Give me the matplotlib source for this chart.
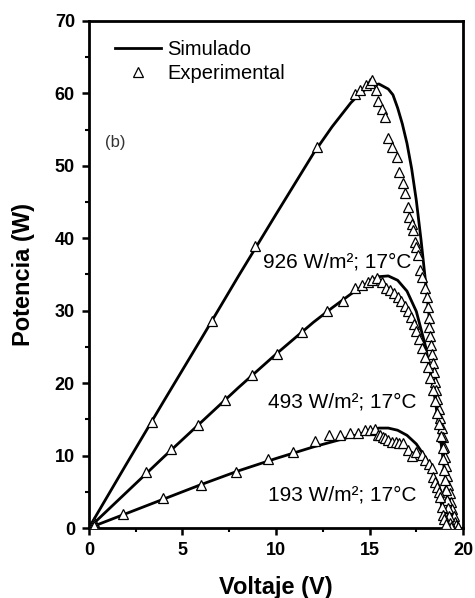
import matplotlib
matplotlib.use("Agg")
import matplotlib.pyplot as plt
from matplotlib.lines import Line2D
from matplotlib.ticker import MultipleLocator

plt.rcParams['font.family'] = ['Liberation Sans', 'DejaVu Sans']

# simulated P-V curves (V, W)
v_sim_926 = [0, 2, 4, 6, 8, 10, 12, 13, 14, 14.5, 15, 15.5, 16, 16.25, 16.5, 16.75, 17, 17.25,
             17.5, 17.75, 18, 18.25, 18.5, 18.75, 19, 19.25, 19.5, 19.57]
p_sim_926 = [0, 8.8, 17.5, 26.1, 34.8, 43.3, 51.7, 55.4, 58.7, 60.0, 61.0, 61.3, 60.6, 59.8, 58.0,
             55.8, 53.1, 49.6, 45.2, 39.8, 33.8, 27.5, 21.5, 15.5, 9.8, 4.5, 0.8, 0]

v_sim_493 = [0, 2, 4, 6, 8, 10, 12, 13, 14, 15, 15.5, 16, 16.5, 17, 17.5, 18, 18.5, 18.75, 19, 19.2, 19.4]
p_sim_493 = [0, 4.9, 9.8, 14.6, 19.4, 24.0, 28.4, 30.4, 32.3, 34.0, 34.7, 34.8, 34.2, 32.7, 29.9,
             25.0, 17.8, 13.2, 8.0, 4.0, 0]

v_sim_193 = [0, 2, 4, 6, 8, 10, 12, 13, 14, 15, 15.5, 16, 16.5, 17, 17.5, 18, 18.25, 18.5, 18.75, 19.05]
p_sim_193 = [0, 2.0, 4.0, 6.0, 7.9, 9.6, 11.2, 11.9, 12.6, 13.4, 13.8, 13.8, 13.5, 12.8, 11.6,
             9.7, 8.4, 6.8, 4.6, 0]

# measured points
v_exp_926 = [0.3, 3.37, 6.58, 8.9, 12.2, 14.2, 14.5, 14.8, 15.0, 15.15, 15.35, 15.45, 15.65, 15.8, 16.0,
             16.2, 16.45, 16.6, 16.8, 16.9, 17.05, 17.1, 17.25, 17.3, 17.45, 17.5, 17.6, 17.7, 17.8,
             17.95, 18.05, 18.1, 18.15, 18.2, 18.25, 18.3, 18.35, 18.4, 18.45, 18.5, 18.55, 18.6,
             18.7, 18.75, 18.85, 18.9, 19.0, 19.05, 19.1, 19.15, 19.2, 19.3, 19.35, 19.4, 19.5,
             19.55, 19.6, 19.7]
p_exp_926 = [0.9, 14.6, 28.6, 39.0, 52.6, 59.9, 60.5, 61.2, 61.5, 61.9, 60.5, 59.0, 57.9, 56.7, 53.8,
             52.6, 51.2, 49.1, 47.6, 46.3, 44.3, 42.9, 42.0, 41.1, 39.5, 38.8, 37.7, 35.6, 34.6,
             33.2, 31.9, 30.5, 29.0, 27.8, 26.5, 25.2, 24.0, 22.8, 21.5, 20.2, 19.0, 17.8,
             16.5, 15.2, 13.8, 12.5, 11.2, 9.8, 8.5, 7.2, 6.0, 4.8, 3.6, 2.6, 1.6,
             0.9, 0.4, 0.1]

v_exp_493 = [0.3, 3.05, 4.4, 5.85, 7.3, 8.7, 10.05, 11.4, 12.7, 13.6, 14.2, 14.6, 14.9, 15.15, 15.4,
             15.65, 15.9, 16.1, 16.3, 16.5, 16.7, 16.9, 17.05, 17.2, 17.35, 17.5, 17.65, 17.8,
             17.95, 18.1, 18.25, 18.4, 18.5, 18.6, 18.7, 18.8, 18.9, 18.95, 19.0, 19.05, 19.1,
             19.15, 19.2, 19.25, 19.3, 19.35]
p_exp_493 = [0.6, 7.7, 10.9, 14.2, 17.7, 21.1, 24.0, 27.0, 29.9, 31.4, 33.1, 33.5, 33.9, 34.2, 34.5,
             33.9, 33.1, 32.8, 32.4, 31.9, 31.3, 30.6, 29.9, 29.1, 28.2, 27.2, 26.1, 24.9,
             23.6, 22.2, 20.7, 19.1, 17.5, 15.9, 14.3, 12.7, 11.1, 9.5, 8.0, 6.6, 5.2,
             3.9, 2.7, 1.6, 0.7, 0.2]

v_exp_193 = [0.3, 1.82, 3.95, 5.98, 7.86, 9.57, 10.9, 12.08, 12.83, 13.4, 13.96, 14.4, 14.76, 15.0,
             15.3, 15.45, 15.55, 15.7, 15.85, 16.0, 16.2, 16.4, 16.6, 16.8, 17.05, 17.27, 17.5,
             17.8, 17.97, 18.15, 18.34, 18.4, 18.5, 18.6, 18.7, 18.77, 18.87, 18.93, 19.0, 19.1]
p_exp_193 = [0.3, 2.0, 4.1, 6.0, 7.8, 9.5, 10.5, 12.0, 12.9, 12.9, 13.1, 13.1, 13.6, 13.6,
             13.7, 12.8, 12.9, 12.6, 12.4, 12.2, 11.9, 11.9, 11.8, 11.7, 10.8, 10.0, 10.5,
             10.1, 9.4, 8.8, 8.3, 7.0, 6.4, 5.7, 5.0, 4.3, 2.9, 1.8, 1.2, 0.5]

curve_labels = ['926 W/m²; 17°C', '493 W/m²; 17°C', '193 W/m²; 17°C']

fig = plt.figure(figsize=(4.75, 5.98), dpi=100)
ax = fig.add_axes([0.187, 0.117, 0.788, 0.848])

sims = [(v_sim_926, p_sim_926), (v_sim_493, p_sim_493), (v_sim_193, p_sim_193)]
exps = [(v_exp_926, p_exp_926), (v_exp_493, p_exp_493), (v_exp_193, p_exp_193)]

for v, p in sims:
    ax.plot(v, p, color='black', lw=2.0, zorder=2)
for v, p in exps:
    ax.plot(v, p, ls='none', marker='^', ms=6.5, mfc='white', mec='black', mew=0.9, zorder=3)

ax.text(9.3, 36.7, curve_labels[0], fontsize=15, va='center', ha='left')
ax.text(9.55, 17.4, curve_labels[1], fontsize=15, va='center', ha='left')
ax.text(9.6, 4.6, curve_labels[2], fontsize=15, va='center', ha='left')
ax.text(0.85, 53.2, '(b)', fontsize=12, va='center', ha='left', color='#333333')

ax.set_xlim(0, 20)
ax.set_ylim(0, 70)
ax.xaxis.set_major_locator(MultipleLocator(5))
ax.xaxis.set_minor_locator(MultipleLocator(2.5))
ax.yaxis.set_major_locator(MultipleLocator(10))
ax.yaxis.set_minor_locator(MultipleLocator(5))
ax.tick_params(which='major', direction='out', length=5, width=1.8, labelsize=13, pad=5)
ax.tick_params(which='minor', direction='out', length=3, width=1.5)
for lab in ax.get_xticklabels() + ax.get_yticklabels():
    lab.set_fontweight('bold')
for s in ax.spines.values():
    s.set_linewidth(2.0)

ax.set_xlabel('Voltaje (V)', fontsize=17, fontweight='bold', labelpad=12)
ax.set_ylabel('Potencia (W)', fontsize=17, fontweight='bold', labelpad=14)

handles = [Line2D([], [], color='black', lw=2.0),
           Line2D([], [], ls='none', marker='^', ms=6.5, mfc='white', mec='black', mew=0.9)]
ax.legend(handles, ['Simulado', 'Experimental'], loc='upper left', bbox_to_anchor=(0.07, 0.963),
          frameon=False, fontsize=14.5, handlelength=2.3, handletextpad=0.3,
          labelspacing=0.25, borderpad=0, borderaxespad=0)

plt.savefig('out.png', dpi=100)
